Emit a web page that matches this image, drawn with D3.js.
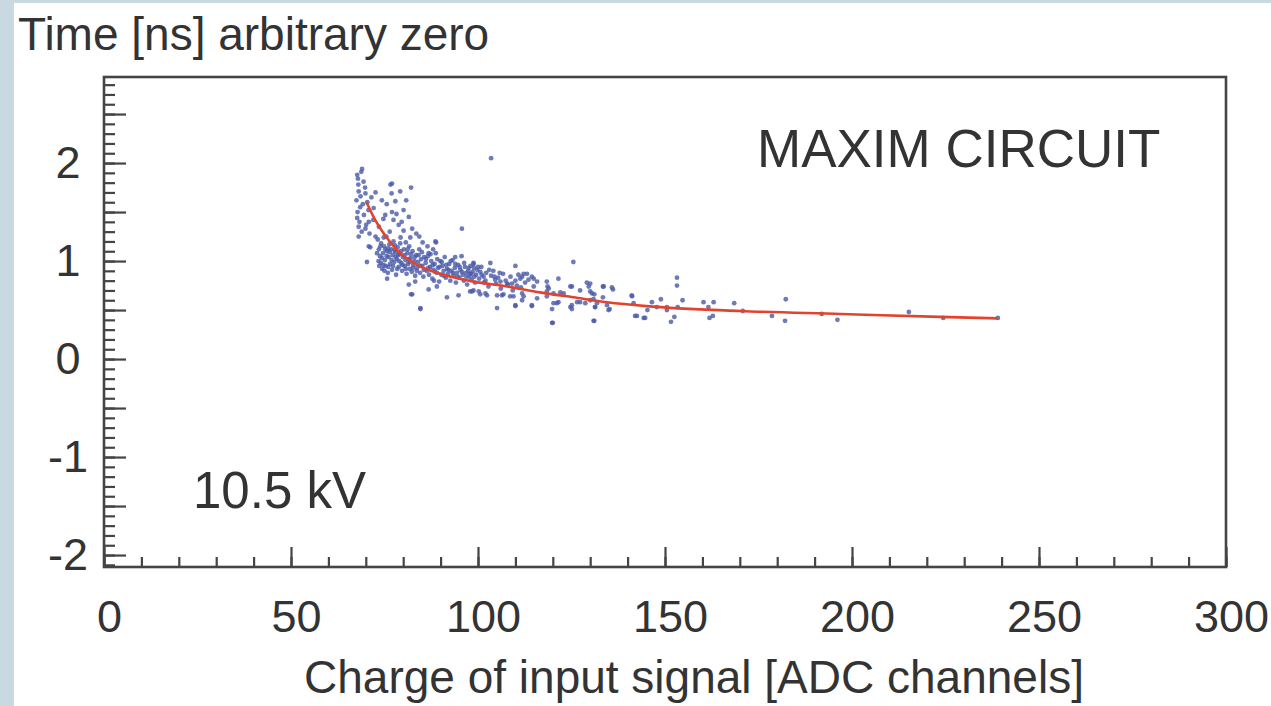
<!DOCTYPE html>
<html>
<head>
<meta charset="utf-8">
<script src="https://cdn.jsdelivr.net/npm/d3@7"></script>
<style>
  body { margin: 0; background: #c9d9e2; }
  svg { display: block; }
  text { font-family: "Liberation Sans", Arial, Helvetica, sans-serif; fill: #333; }
</style>
</head>
<body>
<svg id="chart"></svg>
<script>
// charge [ADC channels], time [ns]
const scatterPoints = [
  [103.5,2.05],[69.0,1.94],[67.7,1.88],[69.4,1.81],[76.6,1.78],[77.0,1.79],[82.1,1.75],
  [68.1,1.71],[69.9,1.69],[72.6,1.70],[74.3,1.62],[77.9,1.61],[79.2,1.71],[68.5,1.55],
  [72.1,1.54],[77.0,1.50],[80.1,1.52],[75.2,1.47],[67.7,1.44],[68.1,1.35],[69.9,1.33],
  [70.8,1.40],[77.4,1.42],[81.5,1.45],[78.8,1.37],[68.1,1.25],[72.6,1.25],[76.4,1.30],
  [80.1,1.31],[81.9,1.24],[95.7,1.33],[88.8,1.19],[71.2,1.14],[70.3,0.99],[75.7,0.82],
  [82.1,0.66],[84.6,0.52],[91.7,0.63],[94.8,0.65],[103.3,0.98],[110.0,0.95],[125.5,0.99],
  [121.5,0.82],[105.1,0.52],[119.8,0.37],[130.9,0.39],[142.0,0.44],[144.3,0.42],[141.1,0.65],
  [129.1,0.78],[129.6,0.74],[133.6,0.74],[135.8,0.73],[124.7,0.74],[111.8,0.84],[113.1,0.87],
  [114.4,0.84],[114.9,0.74],[118.4,0.79],[118.9,0.72],[118.4,0.64],[120.2,0.57],[121.5,0.58],
  [124.7,0.53],[127.3,0.58],[130.9,0.61],[131.8,0.57],[134.5,0.55],[134.9,0.50],[146.5,0.58],
  [147.8,0.53],[110.0,0.55],[114.4,0.55],[111.8,0.67],[105.1,0.65],[108.6,0.64],[106.8,0.66],
  [100.6,0.66],[102.4,0.65],[97.9,0.69],[86.8,0.71],
  [144.7,0.42],[145.3,0.50],[148.9,0.61],[150.5,0.53],[150.5,0.50],[153.2,0.83],[153.2,0.75],
  [151.6,0.38],[152.5,0.43],[153.4,0.53],[154.7,0.60],[160.3,0.58],[161.6,0.53],[163.0,0.58],
  [161.9,0.42],[162.8,0.44],[168.5,0.57],[170.8,0.49],[178.6,0.44],[182.3,0.61],[182.1,0.39],
  [191.9,0.46],[196.1,0.40],[215.2,0.48],[224.4,0.42],[239.0,0.42],
  [130.0,0.77],[130.5,0.67],[130.0,0.60],[133.4,0.74],[136.1,0.71],[133.4,0.63],[131.3,0.53],
  [135.2,0.51],[131.1,0.39],[141.2,0.64],[141.6,0.57],[142.5,0.44],
  [98.8,0.98],[112.2,0.87],[114.9,0.82],[111.3,0.82],[113.5,0.81],[115.8,0.79],[118.6,0.74],
  [118.4,0.69],[120.2,0.67],[122.0,0.68],[122.9,0.67],[125.1,0.74],[127.3,0.70],[130.0,0.69],
  [131.1,0.66],[97.9,0.87],[100.6,0.89],[101.5,0.84],[104.6,0.81],[106.0,0.79],[107.8,0.77],
  [109.1,0.77],[110.4,0.75],[98.8,0.70],[100.2,0.69],[102.0,0.67],[106.4,0.65],[109.5,0.64],
  [112.2,0.64],[110.0,0.54],[111.8,0.60],[114.4,0.54],[115.8,0.62],[119.8,0.51],[121.1,0.57],
  [120.0,0.37],[125.1,0.55],[125.1,0.51],[126.5,0.58],[128.7,0.57],[131.3,0.53],
  [70.8,1.15],[81.5,0.76],[82.4,0.66],[83.2,0.79],[84.6,0.51],[88.2,0.80],[89.0,0.74],
  [98.4,0.69],[88.6,1.20],[86.8,1.08],[93.9,1.04],[98.8,0.97],
  [73.2,1.22],[73.5,1.12],[73.8,1.05],[74.0,0.98],[74.1,1.18],[74.4,0.92],[74.6,1.08],
  [74.9,1.15],[75.1,1.01],[75.3,0.95],[75.5,1.25],[75.7,1.10],[75.9,0.88],[76.1,1.04],
  [76.3,1.17],[76.5,0.97],[76.8,1.12],[77.0,0.91],[77.2,1.06],[77.4,1.20],[77.6,0.99],
  [77.9,1.09],[78.1,0.86],[78.3,1.02],[78.5,1.14],[78.8,0.94],[79.0,1.07],[79.2,1.18],
  [79.5,0.98],[79.7,0.90],[79.9,1.04],[80.2,1.12],[80.4,0.95],[80.6,1.01],[80.9,0.87],
  [81.1,1.08],[81.3,0.97],[81.6,1.15],[81.8,0.92],[82.0,1.03],[82.3,0.89],[82.5,1.10],
  [82.7,0.96],[83.0,1.00],[83.2,0.85],[83.5,1.06],[83.7,0.93],[84.0,0.99],[84.3,1.12],
  [84.5,0.88],[84.8,1.02],[85.1,0.95],[85.4,0.84],[85.6,1.04],
  [73.0,1.08],[74.8,1.24],[76.0,1.13],[77.8,1.16],[79.3,1.24],[80.7,1.19],[73.6,0.95],
  [75.0,0.90],[78.6,1.06],[81.4,1.02],
  [86.0,0.98],[86.3,0.90],[86.6,1.05],[86.9,0.86],[87.2,0.94],[87.5,1.00],[87.8,0.82],
  [88.1,0.91],[88.4,0.97],[88.7,1.08],[89.0,0.88],[89.3,0.93],[89.6,0.79],[89.9,1.00],
  [90.2,0.86],[90.5,0.95],[90.8,0.90],[91.1,1.04],[91.4,0.83],[91.7,0.92],[92.0,0.87],
  [92.3,0.97],[92.6,0.80],[92.9,0.90],[93.2,1.01],[93.5,0.85],[93.8,0.93],[94.1,0.78],
  [94.4,0.88],[94.7,0.96],[95.0,0.83],[95.3,0.91],[95.6,1.05],[95.9,0.86],[96.2,0.80],
  [96.5,0.94],[96.8,0.88],[97.1,0.76],[97.4,0.90],[97.7,0.84],[98.0,0.95],[98.3,0.81],
  [98.6,0.89],[98.9,0.93],[99.2,0.78],[99.5,0.86],[99.8,0.91],
  [100.3,0.82],[100.9,0.94],[101.6,0.78],[102.2,0.88],[102.8,0.74],[103.5,0.85],[104.1,0.90],
  [104.8,0.77],[105.4,0.83],[106.1,0.72],[106.7,0.87],[107.4,0.80],[108.0,0.76],[108.7,0.84],
  [109.3,0.70],[110.0,0.80],[110.8,0.86],[111.5,0.73],[112.6,0.78],
  [67.5,1.62],[67.8,1.50],[68.0,1.78],[68.3,1.40],[68.6,1.66],[68.9,1.30],[69.2,1.58],
  [69.5,1.47],[69.8,1.75],[70.1,1.37],[70.4,1.60],[70.7,1.52],[71.0,1.28],[71.5,1.65],
  [72.0,1.42],[67.9,1.84],[68.8,1.91],
  [73.5,1.35],[75.6,1.58],[78.2,1.48],[79.6,1.40],[80.8,1.62],[82.4,1.33],[76.9,1.69],
  [74.7,1.43],[83.5,1.28],[84.3,1.25],[85.2,1.19],[86.5,1.15],[88.0,1.12],
  // denser core of the cloud
  [73.4,1.00],[73.9,1.15],[74.3,1.03],[74.7,0.96],[75.2,1.12],[75.6,1.05],[76.0,0.94],
  [76.4,1.09],[76.9,1.01],[77.3,0.95],[77.7,1.11],[78.0,1.04],[78.4,0.92],[78.9,1.00],
  [79.4,1.10],[79.8,0.96],[80.3,1.06],[80.7,0.92],[81.2,1.12],[81.7,0.99],[82.1,1.07],
  [82.6,0.93],[83.1,1.04],[83.6,0.90],[84.1,1.06],[84.6,0.95],[85.0,1.09],[85.5,0.91],
  [86.1,1.02],[86.7,0.93],[87.3,1.07],[87.9,0.96],[88.5,0.89],[89.1,1.02],[89.7,0.94],
  [90.3,0.99],[90.9,0.85],[91.5,0.96],[92.1,0.91],[92.7,1.00],[93.3,0.88],[93.9,0.97],
  [94.5,0.84],[95.1,0.94],[95.7,0.89],[96.3,0.98],[96.9,0.84],[97.5,0.93],[98.1,0.87],
  [99.0,0.84],[100.0,0.94],[101.0,0.86],[102.0,0.80],[103.0,0.91],[104.4,0.84],[105.8,0.88]
];

// fitted curve
const fitCurve = [
  [70.2,1.60],[72.5,1.42],[74.8,1.28],[78.4,1.11],[83.7,0.96],[89.9,0.87],[98.8,0.79],
  [107.8,0.74],[116.6,0.68],[125.5,0.63],[134.5,0.58],[145,0.54],[170,0.49],[197,0.46],
  [223.5,0.43],[239,0.415]
];

const xMajorTicks = [0, 50, 100, 150, 200, 250, 300];
const xMinorTicks = d3.range(0, 301, 10);
const yLabelTicks = [-2, -1, 0, 1, 2];
const yMajorTicks = [-2, -1.5, -1, -0.5, 0, 0.5, 1, 1.5, 2, 2.5];
const yMinorTicks = d3.range(-21, 29).map(d => d / 10);

const W = 1271, H = 706;
const svg = d3.select("#chart").attr("width", W).attr("height", H);

// white panel over light blue page
svg.append("rect").attr("x", 14).attr("y", 3).attr("width", W - 14).attr("height", H - 3).attr("fill", "#fff");

const x = d3.scaleLinear().domain([0, 300]).range([104, 1226]);
const y = d3.scaleLinear().domain([-2.122, 2.878]).range([567, 77]);

const frameColor = "#444";

// x axis minor + major ticks (inward)
svg.append("g")
  .attr("transform", `translate(0,${y(-2.122)})`)
  .call(d3.axisBottom(x).tickValues(xMinorTicks).tickSize(-10).tickFormat(""))
  .call(g => g.select(".domain").remove())
  .call(g => g.selectAll("line").attr("stroke", frameColor).attr("stroke-width", 2.2));

svg.append("g")
  .attr("transform", `translate(0,${y(-2.122)})`)
  .call(d3.axisBottom(x).tickValues(xMajorTicks).tickSize(-20).tickPadding(33).tickFormat(d3.format("d")))
  .call(g => g.select(".domain").remove())
  .call(g => g.selectAll("line").attr("stroke", frameColor).attr("stroke-width", 2.2))
  .call(g => g.selectAll("text").attr("font-size", 45).attr("fill", "#333").attr("dx", 5)
    .style("font-family", "'Liberation Sans', Arial, sans-serif"));

// y axis
svg.append("g")
  .attr("transform", `translate(${x(0)},0)`)
  .call(d3.axisLeft(y).tickValues(yMinorTicks).tickSize(-11).tickFormat(""))
  .call(g => g.select(".domain").remove())
  .call(g => g.selectAll("line").attr("stroke", frameColor).attr("stroke-width", 2.2));

svg.append("g")
  .attr("transform", `translate(${x(0)},0)`)
  .call(d3.axisLeft(y).tickValues(yMajorTicks).tickSize(-22).tickFormat(""))
  .call(g => g.select(".domain").remove())
  .call(g => g.selectAll("line").attr("stroke", frameColor).attr("stroke-width", 2.2));

svg.append("g")
  .attr("transform", `translate(${x(0)},0)`)
  .call(d3.axisLeft(y).tickValues(yLabelTicks).tickSize(0).tickPadding(36).tickFormat(d3.format("d")))
  .call(g => g.select(".domain").remove())
  .call(g => g.selectAll("text").attr("font-size", 45).attr("fill", "#333")
    .attr("text-anchor", "middle")
    .text(d => d < 0 ? "-" + Math.abs(d) : d)
    .style("font-family", "'Liberation Sans', Arial, sans-serif"));

// frame
svg.append("rect")
  .attr("x", x(0)).attr("y", y(2.878))
  .attr("width", x(300) - x(0)).attr("height", y(-2.122) - y(2.878))
  .attr("fill", "none").attr("stroke", frameColor).attr("stroke-width", 2.6);

// scatter
svg.append("g").selectAll("circle")
  .data(scatterPoints)
  .enter()
  .append("circle")
  .attr("cx", d => x(d[0]))
  .attr("cy", d => y(d[1]))
  .attr("r", 2.4)
  .attr("fill", "#4a5aa8")
  .attr("fill-opacity", 0.8);

// fit
const line = d3.line()
  .x(d => x(d[0]))
  .y(d => y(d[1]))
  .curve(d3.curveMonotoneX);

svg.append("path")
  .datum(fitCurve)
  .attr("fill", "none")
  .attr("stroke", "#e2432c")
  .attr("stroke-width", 2.6)
  .attr("d", line);

// texts
svg.append("text").attr("x", 18).attr("y", 50).attr("font-size", 46).text("Time [ns] arbitrary zero");
svg.append("text").attr("x", 757).attr("y", 167).attr("font-size", 53).text("MAXIM CIRCUIT");
svg.append("text").attr("x", 193).attr("y", 508).attr("font-size", 51).text("10.5 kV");
svg.append("text").attr("x", 694).attr("y", 693).attr("text-anchor", "middle").attr("font-size", 46)
  .text("Charge of input signal [ADC channels]");
</script>
</body>
</html>
